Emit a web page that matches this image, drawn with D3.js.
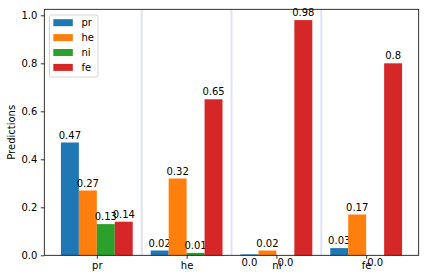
<!DOCTYPE html>
<html><head><meta charset="utf-8">
<script src="https://cdn.jsdelivr.net/npm/d3@7"></script>
<style>body{margin:0;background:#fff}svg{display:block;font-family:"DejaVu Sans",sans-serif}</style>
</head><body><svg id="c" width="424" height="279"></svg>
<script>
const categories = ["pr","he","ni","fe"];
const series = ["pr","he","ni","fe"];
const colors = ["#1f77b4","#ff7f0e","#2ca02c","#d62728"];
// values[s][c]: series s at category c
const valPr = [0.47, 0.02, 0.004, 0.03];
const valHe = [0.27, 0.32, 0.02, 0.17];
const valNi = [0.13, 0.01, 0.0, 0.0];
const valFe = [0.14, 0.65, 0.98, 0.8];
const values = [valPr, valHe, valNi, valFe];
const yTicks = [0, 0.2, 0.4, 0.6, 0.8, 1.0];

const svg = d3.select("#c");
const L = 44.3, R = 418.7, T = 9.3, B = 255.3;
const barW = 0.2;
const x = d3.scaleLinear().domain([-0.585, 3.585]).range([L, R]);
const y = d3.scaleLinear().domain([0, 1.025]).range([B, T]);

// separator lines
[0.5,1.5,2.5].forEach(v => {
  svg.append("line").attr("x1", x(v)).attr("x2", x(v)).attr("y1", T).attr("y2", B)
    .attr("stroke", "#e0e0f8").attr("stroke-width", 2);
});

const fmt = v => { const r = Math.round(v*100)/100; let s = String(r); if (!s.includes(".")) s += ".0"; return s; };

values.forEach((arr, si) => {
  arr.forEach((v, ci) => {
    const cx = ci + (si - 1.5) * barW;
    const x0 = x(cx - barW/2), x1 = x(cx + barW/2);
    svg.append("rect").attr("x", x0).attr("y", y(v)).attr("width", x1 - x0)
      .attr("height", y(0) - y(v)).attr("fill", colors[si]);
    const r = Math.round(v*100)/100;
    const ty = r === 0 ? B + 11 : y(v) - 4;
    svg.append("text").attr("x", (x0 + x1)/2).attr("y", ty).attr("text-anchor", "middle")
      .attr("font-size", 10).attr("fill", "#000").text(fmt(v));
  });
});

// axes
const ax = svg.append("g").attr("transform", `translate(0,${B})`)
  .call(d3.axisBottom(x).tickValues([0,1,2,3]).tickFormat(i => categories[i]).tickSize(3.5).tickPadding(3.5));
const ay = svg.append("g").attr("transform", `translate(${L},0)`)
  .call(d3.axisLeft(y).tickValues(yTicks).tickFormat(d3.format(".1f")).tickSize(3.5).tickPadding(3.5));
[ax, ay].forEach(g => {
  g.selectAll("text").attr("font-size", 10).attr("font-family", "DejaVu Sans").attr("fill", "#000");
  g.selectAll("line").attr("stroke", "#000").attr("stroke-width", 0.8);
  g.select(".domain").remove();
});
svg.append("rect").attr("x", L).attr("y", T).attr("width", R - L).attr("height", B - T)
  .attr("fill", "none").attr("stroke", "#000").attr("stroke-width", 0.8);

svg.append("text").attr("transform", `translate(15,${(T+B)/2}) rotate(-90)`)
  .attr("text-anchor", "middle").attr("font-size", 10).text("Predictions");

// legend
const lg = svg.append("g");
lg.append("rect").attr("x", 49.5).attr("y", 15).attr("width", 48.5).attr("height", 62)
  .attr("fill", "#fff").attr("fill-opacity", 0.8).attr("stroke", "#ccc").attr("stroke-width", 0.8).attr("rx", 2);
series.forEach((s, i) => {
  const cy = 22.7 + i * 14.9;
  lg.append("rect").attr("x", 53.3).attr("y", cy - 3.5).attr("width", 19.5).attr("height", 7).attr("fill", colors[i]);
  lg.append("text").attr("x", 81.5).attr("y", cy + 3.6).attr("font-size", 10).text(s);
});
</script></body></html>
